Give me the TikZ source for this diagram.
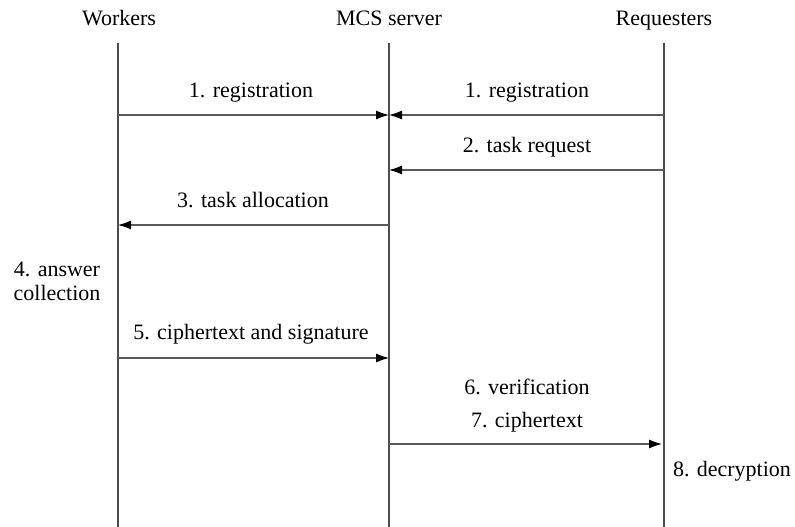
\documentclass[tikz,border=0pt]{standalone}
\usepackage{fontspec}
\setmainfont{Liberation Serif}
\usetikzlibrary{arrows.meta}
\begin{document}
\begin{tikzpicture}[x=1pt,y=-1pt,
  lbl/.style={font=\fontsize{22}{24}\selectfont, inner sep=0pt, anchor=base},
  life/.style={draw=black!70, line width=1.4pt},
  msg/.style={draw=black!65, line width=1.1pt, -{Latex[length=13pt,width=9pt,black]}}]
\useasboundingbox (0,0) rectangle (795,527);
% headers
\node[lbl] (hw) at (119,26) {Workers};
\node[lbl] (hm) at (389,26) {MCS server};
\node[lbl] (hr) at (664,26) {Requesters};
% lifelines
\coordinate (wt) at (118,43); \coordinate (wb) at (118,527);
\coordinate (mt) at (389,43); \coordinate (mb) at (389,527);
\coordinate (rt) at (664,43); \coordinate (rb) at (664,527);
\draw[life] (wt) -- (wb);
\draw[life] (mt) -- (mb);
\draw[life] (rt) -- (rb);
% message endpoints
\coordinate (w1) at (118,115); \coordinate (m1) at (389,115); \coordinate (r1) at (664,115);
\coordinate (m2) at (389,170); \coordinate (r2) at (664,170);
\coordinate (w3) at (118,225); \coordinate (m3) at (389,225);
\coordinate (w5) at (118,358); \coordinate (m5) at (389,358);
\coordinate (m7) at (389,444); \coordinate (r7) at (662,444);
% messages
\draw[msg] (w1) -- (m1);
\draw[msg] (r1) -- (m1);
\draw[msg] (r2) -- (m2);
\draw[msg] (m3) -- (w3);
\draw[msg] (w5) -- (m5);
\draw[msg] (m7) -- (r7);
% labels
\node[lbl] (l1a) at (251,97) {1. registration};
\node[lbl] (l1b) at (527,97) {1. registration};
\node[lbl] (l2) at (527,152) {2. task request};
\node[lbl] (l3) at (253,207) {3. task allocation};
\node[lbl] (l4a) at (57,276) {4. answer};
\node[lbl] (l4b) at (57,300) {collection};
\node[lbl] (l5) at (251,339) {5. ciphertext and signature};
\node[lbl] (l6) at (527,394) {6. verification};
\node[lbl] (l7) at (527,427) {7. ciphertext};
\node[lbl] (l8) at (732,476) {8. decryption};
\end{tikzpicture}
\end{document}
